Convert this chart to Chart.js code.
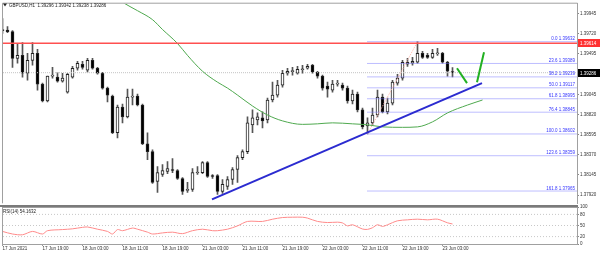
<!DOCTYPE html>
<html>
<head>
<meta charset="utf-8">
<title>GBPUSD H1</title>
<script src="https://cdn.jsdelivr.net/npm/chart.js@4.4.1/dist/chart.umd.min.js"></script>
<style>
  html, body { margin: 0; padding: 0; background: #fff; }
  #wrap { position: relative; width: 600px; height: 254px; overflow: hidden; }
  #main { position: absolute; left: 0; top: 0; }
  #rsi  { position: absolute; left: 0; top: 200px; }
</style>
</head>
<body>
<div id="wrap">
  <canvas id="main" width="600" height="207"></canvas>
  <canvas id="rsi" width="600" height="54"></canvas>
</div>
<script>
const FONT  = "'Liberation Sans', Arial, sans-serif";
const X_MIN = 0.1;
const X_MAX = 114.9;
const P_MIN = 1.37828;
const P_MAX = 1.40056;

// H1 candles, index 0 = 17 Jun 11:00
const opens = [
  1.39756, 1.39762, 1.39745, 1.39446, 1.39479, 1.39280, 1.39424, 1.39502, 1.39158, 1.38970,
  1.39247, 1.39236, 1.39191, 1.39069, 1.39236, 1.39335, 1.39380, 1.39313, 1.39424, 1.39335,
  1.39280, 1.39114, 1.39025, 1.38615, 1.38903, 1.38792, 1.39014, 1.39025, 1.38925, 1.38493,
  1.38404, 1.38072, 1.38149, 1.38183, 1.38205, 1.38194, 1.38105, 1.37972, 1.37983, 1.38166,
  1.38171, 1.38282, 1.38138, 1.38138, 1.37961, 1.38016, 1.38094, 1.38205, 1.38338, 1.38404,
  1.38704, 1.38759, 1.38781, 1.38759, 1.38981, 1.39036, 1.39147, 1.39280, 1.39297, 1.39280,
  1.39319, 1.39335, 1.39369, 1.39291, 1.39247, 1.39136, 1.39091, 1.39158, 1.39147, 1.39114,
  1.38970, 1.39047, 1.38870, 1.38692, 1.38726, 1.38814, 1.39014, 1.38848, 1.38947, 1.39169,
  1.39225, 1.39380, 1.39391, 1.39402, 1.39502, 1.39479, 1.39457, 1.39496, 1.39502, 1.39402,
  1.39296
];
const highs = [
  1.39889, 1.39801, 1.39756, 1.39612, 1.39623, 1.39502, 1.39623, 1.39546, 1.39169, 1.39247,
  1.39346, 1.39291, 1.39280, 1.39280, 1.39357, 1.39413, 1.39413, 1.39446, 1.39446, 1.39346,
  1.39291, 1.39125, 1.39036, 1.38925, 1.38936, 1.39103, 1.39103, 1.39047, 1.38936, 1.38615,
  1.38426, 1.38238, 1.38260, 1.38293, 1.38327, 1.38205, 1.38116, 1.38061, 1.38216, 1.38238,
  1.38293, 1.38293, 1.38149, 1.38149, 1.38094, 1.38127, 1.38227, 1.38360, 1.38426, 1.38792,
  1.38870, 1.38837, 1.38848, 1.39003, 1.39180, 1.39202, 1.39313, 1.39335, 1.39346, 1.39357,
  1.39369, 1.39380, 1.39380, 1.39302, 1.39258, 1.39180, 1.39202, 1.39202, 1.39169, 1.39136,
  1.39091, 1.39069, 1.38892, 1.38781, 1.38892, 1.39091, 1.39047, 1.39003, 1.39202, 1.39269,
  1.39424, 1.39446, 1.39457, 1.39632, 1.39524, 1.39502, 1.39546, 1.39557, 1.39513, 1.39413,
  1.39342
];
const lows = [
  1.39723, 1.39734, 1.39346, 1.39391, 1.39236, 1.39202, 1.39369, 1.39091, 1.38959, 1.38959,
  1.39225, 1.39180, 1.39180, 1.39058, 1.39225, 1.39313, 1.39324, 1.39291, 1.39324, 1.39269,
  1.39103, 1.38959, 1.38604, 1.38559, 1.38726, 1.38781, 1.38925, 1.38914, 1.38482, 1.38316,
  1.38050, 1.37950, 1.38127, 1.38160, 1.38171, 1.38094, 1.37928, 1.37950, 1.37961, 1.38149,
  1.38160, 1.38116, 1.38105, 1.37928, 1.37939, 1.37983, 1.38039, 1.38061, 1.38316, 1.38382,
  1.38615, 1.38704, 1.38670, 1.38726, 1.38959, 1.39014, 1.39125, 1.39258, 1.39258, 1.39269,
  1.39280, 1.39324, 1.39280, 1.39225, 1.39091, 1.39014, 1.39069, 1.39136, 1.39091, 1.38947,
  1.38936, 1.38848, 1.38659, 1.38602, 1.38704, 1.38792, 1.38837, 1.38825, 1.38925, 1.39147,
  1.39202, 1.39357, 1.39369, 1.39391, 1.39446, 1.39446, 1.39446, 1.39479, 1.39391, 1.39247,
  1.39238
];
const closes = [
  1.39768, 1.39745, 1.39446, 1.39479, 1.39280, 1.39424, 1.39502, 1.39158, 1.38970, 1.39247,
  1.39258, 1.39191, 1.39225, 1.39269, 1.39335, 1.39391, 1.39346, 1.39424, 1.39335, 1.39280,
  1.39114, 1.39036, 1.38615, 1.38903, 1.38792, 1.39014, 1.39025, 1.38925, 1.38493, 1.38404,
  1.38061, 1.38171, 1.38194, 1.38216, 1.38194, 1.38105, 1.37961, 1.37983, 1.38171, 1.38171,
  1.38282, 1.38127, 1.38127, 1.37961, 1.38039, 1.38094, 1.38205, 1.38338, 1.38404, 1.38726,
  1.38781, 1.38792, 1.38748, 1.38981, 1.39036, 1.39147, 1.39280, 1.39302, 1.39302, 1.39324,
  1.39324, 1.39357, 1.39291, 1.39247, 1.39114, 1.39103, 1.39158, 1.39169, 1.39114, 1.38970,
  1.39047, 1.38870, 1.38681, 1.38726, 1.38814, 1.39014, 1.38848, 1.38947, 1.39180, 1.39225,
  1.39402, 1.39402, 1.39413, 1.39502, 1.39457, 1.39457, 1.39502, 1.39502, 1.39402, 1.39302,
  1.39286
];

const maIdx = [23, 24, 27, 30, 32, 35, 37, 40, 43, 45, 47, 50, 53, 56, 60, 63, 66, 70, 73, 76, 80, 83, 86, 89, 93, 96];
const maVal = [1.40111, 1.40072, 1.39978, 1.39878, 1.39768, 1.39612, 1.39479, 1.39302, 1.39180, 1.39114,
               1.39036, 1.38914, 1.38814, 1.38748, 1.38709, 1.38715, 1.38726, 1.38715, 1.38704, 1.38681,
               1.38676, 1.38681, 1.38737, 1.38837, 1.38925, 1.38981];

const rsiIdx = [0, 2, 4, 6, 8, 9, 12, 14, 16, 17, 19, 21, 22, 23, 24, 26, 27, 29, 30, 32, 34, 36, 38, 40, 42, 43, 45,
                47, 49, 52, 54, 56, 58, 60, 61, 63, 65, 67, 68, 69, 70, 72, 73, 74, 75, 76, 77, 79, 81, 83, 85, 87, 89, 90];
const rsiVal = [34, 27, 25, 34, 27, 36, 39, 41, 45, 46, 40, 34, 27, 39, 36, 43, 40, 32, 27, 30, 32, 28, 36, 40, 36, 36, 40,
                49, 61, 61, 67, 71.5, 72.4, 72.4, 70, 61, 58, 59, 57, 49, 52, 40.5, 39.5, 44, 52, 47.5, 52, 62.7, 65.3, 67.1, 65.3, 67.1, 57.3, 54.16];

const timeIdx    = [0, 8, 16, 24, 32, 40, 48, 56, 64, 72, 80, 88];
const timeLabels = ['17 Jun 2021', '17 Jun 19:00', '18 Jun 03:00', '18 Jun 11:00', '18 Jun 19:00', '21 Jun 03:00',
                    '21 Jun 11:00', '21 Jun 19:00', '22 Jun 03:00', '22 Jun 11:00', '22 Jun 19:00', '23 Jun 03:00'];

const priceTicks = [1.39945, 1.39720, 1.39495, 1.39270, 1.39045, 1.38820, 1.38595, 1.38370, 1.38145, 1.37920];
const rsiTicks   = [100, 80, 50, 20, 0];
const rsiLevels  = [80, 50, 20];

const fibPct     = ['0.0', '23.6', '38.2', '50.0', '61.8', '76.4', '100.0', '123.6', '161.8'];
const fibLevels  = [1.39632, 1.39389, 1.39239, 1.39117, 1.38995, 1.38845, 1.38602, 1.38359, 1.37965];
const fibLowIdx  = 73;
const fibHighIdx = 83;

const resistance = 1.39614;
const lastPrice  = 1.39286;

const trendIdx = [41.9, 95.9];
const trendVal = [1.37872, 1.39169];
const pathAIdx = [90.9, 92.9];
const pathAVal = [1.39335, 1.39169];
const pathBIdx = [94.9, 96.3];
const pathBVal = [1.39180, 1.39513];

const pts = (xs, ys) => xs.map((x, i) => ({ x, y: ys[i] }));
const flat = v => [{ x: X_MIN, y: v }, { x: X_MAX, y: v }];

function lineSet(data, color, width, extra = {}) {
  return Object.assign({
    type: 'line', data, borderColor: color, borderWidth: width,
    pointRadius: 0, fill: false, tension: 0, order: 1
  }, extra);
}

const mainDecor = {
  id: 'mainDecor',
  afterDraw(chart) {
    const { ctx, chartArea: a, scales: { y } } = chart;
    ctx.save();
    ctx.strokeStyle = '#a0a0a0';
    ctx.lineWidth = 1;
    ctx.beginPath();
    ctx.moveTo(a.left - 0.5, a.bottom);
    ctx.lineTo(a.left - 0.5, a.top - 0.5);
    ctx.lineTo(a.right + 0.5, a.top - 0.5);
    ctx.lineTo(a.right + 0.5, a.bottom);
    ctx.stroke();

    ctx.font = `4.5px ${FONT}`;
    ctx.fillStyle = '#3535ff';
    ctx.textAlign = 'right';
    ctx.textBaseline = 'bottom';
    fibLevels.forEach((v, i) => {
      ctx.fillText(`${fibPct[i]} ${v.toFixed(5)}`, a.right - 2, y.getPixelForValue(v) - 0.5);
    });

    ctx.textAlign = 'left';
    ctx.textBaseline = 'middle';
    [[resistance, '#ff3030'], [lastPrice, '#000000']].forEach(([v, bg]) => {
      const py = Math.round(y.getPixelForValue(v));
      ctx.fillStyle = bg;
      ctx.fillRect(a.right + 1, py - 4, 600 - a.right - 1, 8);
      ctx.fillStyle = '#ffffff';
      ctx.fillText(v.toFixed(5), a.right + 3, py + 0.5);
    });

    ctx.fillStyle = '#222';
    ctx.beginPath();
    ctx.moveTo(3, 3.5);
    ctx.lineTo(7, 3.5);
    ctx.lineTo(5, 6.5);
    ctx.closePath();
    ctx.fill();
    ctx.fillText('GBPUSD,H1  1.39296 1.39342 1.39238 1.39286', 9, 5.5);
    ctx.restore();
  }
};

new Chart(document.getElementById('main'), {
  type: 'bar',
  data: {
    datasets: [
      lineSet(flat(resistance), '#ff5050', 1.5, { order: 0 }),
      lineSet(pts(trendIdx, trendVal), '#2b2bd0', 2, { order: 0 }),
      lineSet(pts(pathAIdx, pathAVal), '#22b022', 2, { order: 0 }),
      lineSet(pts(pathBIdx, pathBVal), '#22b022', 2, { order: 0 }),
      lineSet(pts(maIdx, maVal), '#4fa94f', 1, { tension: 0.4, cubicInterpolationMode: 'monotone' }),
      lineSet(flat(lastPrice), '#c4c4c4', 1, { borderDash: [1, 1] }),
      lineSet(pts([fibLowIdx, fibHighIdx], [fibLevels[6], fibLevels[0]]), '#ffb4a8', 1, { borderDash: [1, 1] }),
      ...fibLevels.map(v => lineSet([{ x: fibLowIdx, y: v }, { x: X_MAX, y: v }], '#7c7cff', 1, { borderDash: [1, 1] })),
      {
        label: 'body',
        data: opens.map((o, i) => ({ x: i, y: [o, closes[i]] })),
        backgroundColor: opens.map((o, i) => closes[i] >= o ? '#ffffff' : '#000000'),
        borderColor: '#222',
        borderWidth: 1,
        borderSkipped: false,
        barThickness: 3,
        minBarLength: 1,
        grouped: false,
        order: 2
      },
      {
        label: 'wick',
        data: lows.map((l, i) => ({ x: i, y: [l, highs[i]] })),
        backgroundColor: '#555',
        borderWidth: 0,
        barThickness: 1,
        grouped: false,
        order: 3
      }
    ]
  },
  options: {
    responsive: false,
    animation: false,
    events: [],
    layout: { padding: { left: 3, top: 3, bottom: 3, right: 0 } },
    plugins: { legend: { display: false }, tooltip: { enabled: false } },
    scales: {
      x: { type: 'linear', min: X_MIN, max: X_MAX, offset: false, display: false },
      y: {
        type: 'linear', position: 'right', min: P_MIN, max: P_MAX,
        afterFit: s => { s.width = 23; },
        afterBuildTicks: s => { s.ticks = priceTicks.map(value => ({ value })); },
        grid: { drawOnChartArea: false, drawTicks: true, tickLength: 2, color: '#888' },
        border: { display: true, color: '#a0a0a0' },
        ticks: { padding: 1, color: '#333', font: { family: FONT, size: 4.5 }, callback: v => v.toFixed(5) }
      }
    }
  },
  plugins: [mainDecor]
});

const rsiDecor = {
  id: 'rsiDecor',
  afterDraw(chart) {
    const { ctx, chartArea: a } = chart;
    ctx.save();
    ctx.strokeStyle = '#a0a0a0';
    ctx.lineWidth = 1;
    ctx.strokeRect(a.left - 0.5, a.top + 0.5, a.right - a.left + 1, a.bottom - a.top);
    ctx.strokeStyle = '#7a7a7a';
    ctx.lineWidth = 2;
    ctx.beginPath();
    ctx.moveTo(0, a.top - 1);
    ctx.lineTo(a.right + 1, a.top - 1);
    ctx.stroke();
    ctx.fillStyle = '#222';
    ctx.font = `4.5px ${FONT}`;
    ctx.textBaseline = 'middle';
    ctx.fillText('RSI(14) 54.1632', 3, a.top + 4.5);
    ctx.restore();
  }
};

new Chart(document.getElementById('rsi'), {
  type: 'line',
  data: {
    datasets: [
      lineSet(pts(rsiIdx, rsiVal), '#ff8a8a', 1, { tension: 0.3, order: 0 }),
      ...rsiLevels.map(v => lineSet(flat(v), '#c8c8c8', 1, { borderDash: [1, 2] }))
    ]
  },
  options: {
    responsive: false,
    animation: false,
    events: [],
    layout: { padding: { left: 3, top: 7, bottom: 0, right: 0 } },
    plugins: { legend: { display: false }, tooltip: { enabled: false } },
    scales: {
      x: {
        type: 'linear', position: 'bottom', min: X_MIN, max: X_MAX, offset: false,
        afterFit: s => { s.height = 10; },
        afterBuildTicks: s => { s.ticks = timeIdx.map(value => ({ value })); },
        grid: { drawOnChartArea: false, drawTicks: true, tickLength: 2, color: '#999' },
        border: { display: false },
        ticks: {
          autoSkip: false, maxRotation: 0, minRotation: 0, align: 'start', padding: 0,
          color: '#333', font: { family: FONT, size: 4.5 },
          callback: (v, i) => timeLabels[i]
        }
      },
      y: {
        type: 'linear', position: 'right', min: 0, max: 100,
        afterFit: s => { s.width = 23; },
        afterBuildTicks: s => { s.ticks = rsiTicks.map(value => ({ value })); },
        grid: { drawOnChartArea: false, drawTicks: true, tickLength: 2, color: '#888' },
        border: { display: true, color: '#a0a0a0' },
        ticks: { padding: 1, color: '#333', font: { family: FONT, size: 4.5 }, callback: v => String(v) }
      }
    }
  },
  plugins: [rsiDecor]
});
</script>
</body>
</html>
